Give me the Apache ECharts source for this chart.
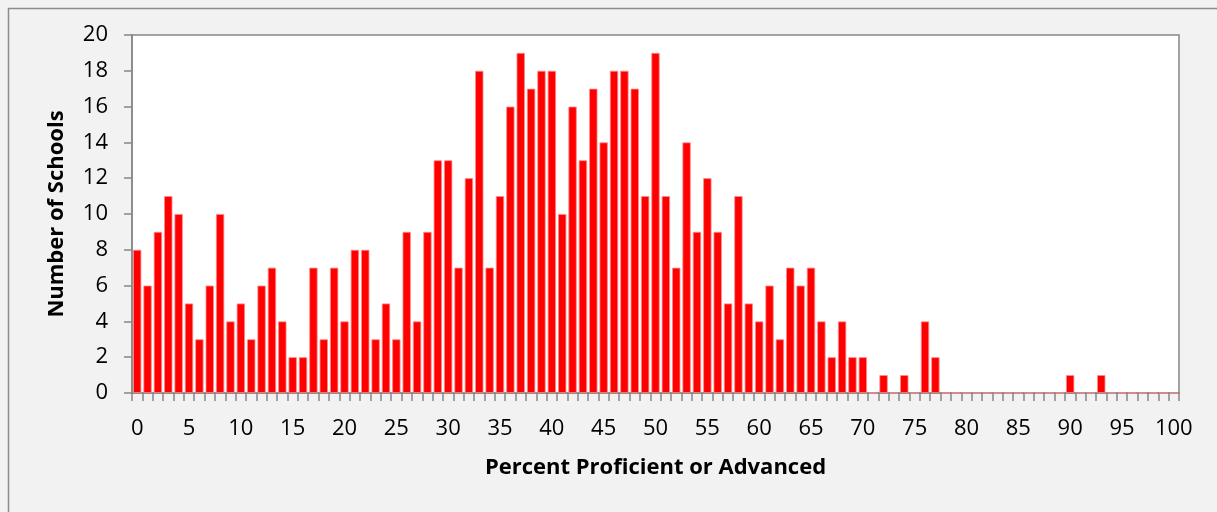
<!DOCTYPE html>
<html>
<head>
<meta charset="utf-8">
<script src="https://cdn.jsdelivr.net/npm/echarts@6/dist/echarts.min.js"></script>
<style>
html,body{margin:0;padding:0;background:#f2f2f2;}
#c{width:1217px;height:512px;}
</style>
</head>
<body>
<div id="c"></div>
<script>
// Categories: percent proficient or advanced (0..100)
const categories = [];
for (let i = 0; i <= 100; i++) categories.push(String(i));

// Number of schools per percent value
const schools = [
  8, 6, 9, 11, 10, 5, 3, 6, 10, 4,      // 0-9
  5, 3, 6, 7, 4, 2, 2, 7, 3, 7,         // 10-19
  4, 8, 8, 3, 5, 3, 9, 4, 9, 13,        // 20-29
  13, 7, 12, 18, 7, 11, 16, 19, 17, 18, // 30-39
  18, 10, 16, 13, 17, 14, 18, 18, 17, 11, // 40-49
  19, 11, 7, 14, 9, 12, 9, 5, 11, 5,    // 50-59
  4, 6, 3, 7, 6, 7, 4, 2, 4, 2,         // 60-69
  2, 0, 1, 0, 1, 0, 4, 2, 0, 0,         // 70-79
  0, 0, 0, 0, 0, 0, 0, 0, 0, 0,         // 80-89
  1, 0, 0, 1, 0, 0, 0, 0, 0, 0,         // 90-99
  0                                     // 100
];

const yTicks = [0, 2, 4, 6, 8, 10, 12, 14, 16, 18, 20];

const xTitle = 'Percent Proficient or Advanced';
const yTitle = 'Number of Schools';

const chart = echarts.init(document.getElementById('c'), null, {renderer: 'canvas'});
const axisGray = '#868686';
const font = '"Open Sans", "DejaVu Sans", sans-serif';

chart.setOption({
  backgroundColor: '#f2f2f2',
  animation: false,
  graphic: [{
    type: 'rect',
    left: 6, top: 6,
    shape: {x: 0, y: 0, width: 1400, height: 700},
    style: {fill: 'none', stroke: '#8c8c8c', lineWidth: 1.5},
    silent: true,
    z: -1
  }],
  grid: {
    left: 132, top: 35, right: 38, bottom: 119,
    show: true,
    backgroundColor: '#ffffff',
    borderColor: axisGray,
    borderWidth: 1.5
  },
  xAxis: {
    type: 'category',
    data: categories,
    name: xTitle,
    nameLocation: 'middle',
    nameGap: 64,
    nameTextStyle: {fontFamily: font, fontWeight: 'bold', fontSize: 22, color: '#000'},
    axisLine: {lineStyle: {color: axisGray, width: 1.5}},
    axisTick: {show: true, interval: 0, length: 8, lineStyle: {color: axisGray, width: 1.5}},
    axisLabel: {
      interval: 4,
      margin: 25,
      fontFamily: font,
      fontSize: 22,
      color: '#000'
    },
    splitLine: {show: false}
  },
  yAxis: {
    type: 'value',
    min: yTicks[0],
    max: yTicks[yTicks.length - 1],
    interval: yTicks[1] - yTicks[0],
    name: yTitle,
    nameLocation: 'middle',
    nameRotate: 90,
    nameGap: 64,
    nameTextStyle: {fontFamily: font, fontWeight: 'bold', fontSize: 22, color: '#000'},
    axisLine: {show: true, lineStyle: {color: axisGray, width: 1.5}},
    axisTick: {show: true, length: 8, lineStyle: {color: axisGray, width: 1.5}},
    axisLabel: {
      margin: 24,
      fontFamily: font,
      fontSize: 22,
      color: '#000'
    },
    splitLine: {show: false}
  },
  series: [{
    type: 'bar',
    data: schools,
    barCategoryGap: '20%',
    itemStyle: {color: '#ff0000', borderColor: '#ff8c8c', borderWidth: 0.8}
  }]
});
</script>
</body>
</html>
